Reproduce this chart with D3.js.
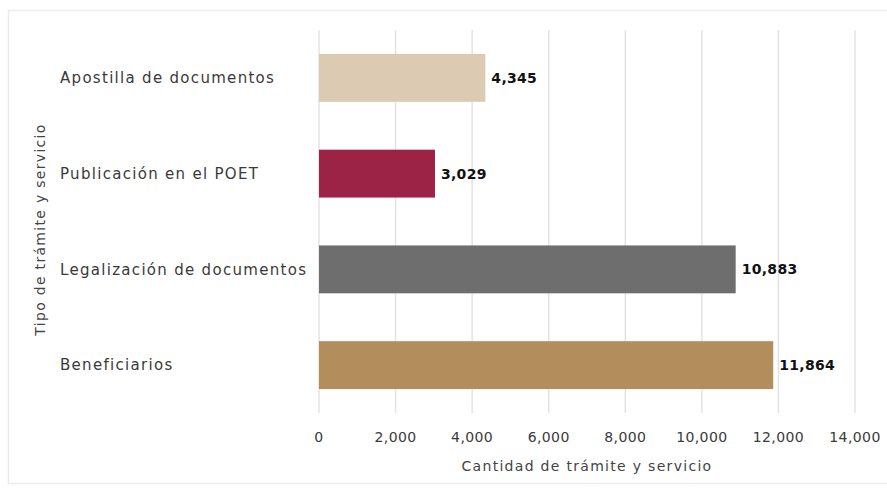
<!DOCTYPE html>
<html lang="es">
<head>
  <meta charset="UTF-8" />
  <title>Trámites y servicios</title>
  <style>
    body { margin: 0; background: #fff; }
    text { font-family: "DejaVu Sans", sans-serif; }
    .grid line { stroke: #e3e3e3; stroke-width: 1.5px; }
    .cat { font-size: 15px; letter-spacing: 1.3px; fill: #3a3a3a; }
    .tick-label { font-size: 14px; letter-spacing: 0.4px; fill: #3a3a3a; }
    .value { font-size: 14px; font-weight: bold; letter-spacing: 0.3px; fill: #111; }
    .axis-title { font-size: 14px; letter-spacing: 1.3px; fill: #444; }
  </style>
  <script src="https://d3js.org/d3.v7.min.js"></script>
</head>
<body>
  <div id="chart"></div>
  <script>
    const categories = ["Apostilla de documentos", "Publicación en el POET", "Legalización de documentos", "Beneficiarios"];
    const values = [4345, 3029, 10883, 11864];
    const colors = ["#dccab2", "#9c2246", "#6e6e6e", "#b38d5c"];
    const xTicks = [0, 2000, 4000, 6000, 8000, 10000, 12000, 14000];

    const W = 887, H = 490;
    const svg = d3.select("#chart").append("svg")
      .attr("width", W)
      .attr("height", H);

    // faint frame
    svg.append("rect")
      .attr("x", 8.5).attr("y", 10.5)
      .attr("width", W).attr("height", 473)
      .attr("fill", "none")
      .attr("stroke", "#ececec")
      .attr("stroke-width", 1.5);

    const plot = { left: 319, right: 855, top: 30, bottom: 413 };

    const x = d3.scaleLinear().domain([0, 14000]).range([plot.left, plot.right]);
    const y = d3.scaleBand().domain(categories).range([plot.top, plot.bottom]).paddingInner(0.5).paddingOuter(0.25);

    const fmt = d3.format(",");

    // gridlines
    svg.append("g").attr("class", "grid")
      .selectAll("line")
      .data(xTicks)
      .join("line")
      .attr("x1", d => x(d)).attr("x2", d => x(d))
      .attr("y1", plot.top).attr("y2", plot.bottom);

    // bars
    svg.selectAll(".bar")
      .data(categories)
      .join("rect")
      .attr("class", "bar")
      .attr("x", x(0))
      .attr("y", d => y(d))
      .attr("width", (d, i) => x(values[i]) - x(0))
      .attr("height", y.bandwidth())
      .attr("fill", (d, i) => colors[i]);

    // value labels
    svg.selectAll(".value")
      .data(categories)
      .join("text")
      .attr("class", "value")
      .attr("x", (d, i) => x(values[i]) + 6)
      .attr("y", d => y(d) + y.bandwidth() / 2)
      .attr("dy", "0.35em")
      .text((d, i) => fmt(values[i]));

    // category labels
    svg.selectAll(".cat")
      .data(categories)
      .join("text")
      .attr("class", "cat")
      .attr("x", 60)
      .attr("y", d => y(d) + y.bandwidth() / 2)
      .attr("dy", "0.35em")
      .text(d => d);

    // x tick labels
    svg.selectAll(".tick-label")
      .data(xTicks)
      .join("text")
      .attr("class", "tick-label")
      .attr("x", d => x(d))
      .attr("y", 437)
      .attr("dy", "0.35em")
      .attr("text-anchor", "middle")
      .text(d => fmt(d));

    // axis titles
    svg.append("text")
      .attr("class", "axis-title")
      .attr("x", (plot.left + plot.right) / 2)
      .attr("y", 466)
      .attr("dy", "0.35em")
      .attr("text-anchor", "middle")
      .text("Cantidad de trámite y servicio");

    svg.append("text")
      .attr("class", "axis-title")
      .attr("transform", `translate(40,${(plot.top + plot.bottom) / 2 + 8}) rotate(-90)`)
      .attr("dy", "0.35em")
      .attr("text-anchor", "middle")
      .text("Tipo de trámite y servicio");
  </script>
</body>
</html>
